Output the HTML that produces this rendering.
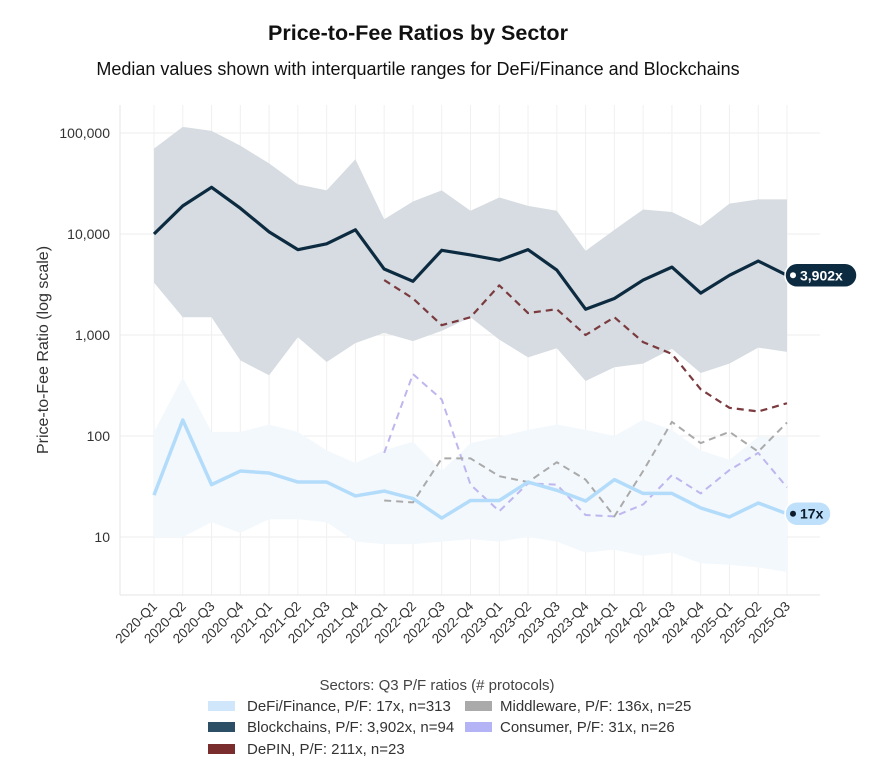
<!DOCTYPE html>
<html><head><meta charset="utf-8"><style>
body{margin:0;background:#fff;font-family:"Liberation Sans",sans-serif;}
svg text{font-family:"Liberation Sans",sans-serif;}
</style></head><body>
<svg id="chart" width="879" height="773" xmlns="http://www.w3.org/2000/svg">
<text x="418" y="40" text-anchor="middle" font-size="21.5" font-weight="bold" fill="#111">Price-to-Fee Ratios by Sector</text>
<text x="418" y="75" text-anchor="middle" font-size="18" fill="#111">Median values shown with interquartile ranges for DeFi/Finance and Blockchains</text>
<text transform="translate(48,350) rotate(-90)" text-anchor="middle" font-size="16" fill="#333">Price-to-Fee Ratio (log scale)</text>
<g id="grid"></g><g id="bands"></g><g id="lines"></g><g id="axes"></g><g id="labels"></g>
<g font-size="15" fill="#333">
<text x="437" y="690" text-anchor="middle" fill="#444">Sectors: Q3 P/F ratios (# protocols)</text>
<g><rect x="208" y="701" width="27" height="10" fill="#cfe6fb"/><text x="247" y="711">DeFi/Finance, P/F: 17x, n=313</text></g>
<g><rect x="208" y="722" width="27" height="10" fill="#2c4f66"/><text x="247" y="732">Blockchains, P/F: 3,902x, n=94</text></g>
<g><rect x="208" y="744" width="27" height="10" fill="#7a2d2d"/><text x="247" y="754">DePIN, P/F: 211x, n=23</text></g>
<g><rect x="465" y="701" width="27" height="10" fill="#aaaaaa"/><text x="500" y="711">Middleware, P/F: 136x, n=25</text></g>
<g><rect x="465" y="722" width="27" height="10" fill="#b3b3f5"/><text x="500" y="732">Consumer, P/F: 31x, n=26</text></g>
</g>
</svg>
<script>
const categories=["2020-Q1","2020-Q2","2020-Q3","2020-Q4","2021-Q1","2021-Q2","2021-Q3","2021-Q4","2022-Q1","2022-Q2","2022-Q3","2022-Q4","2023-Q1","2023-Q2","2023-Q3","2023-Q4","2024-Q1","2024-Q2","2024-Q3","2024-Q4","2025-Q1","2025-Q2","2025-Q3"];
const chainMedian=[10000,19000,29000,18000,10500,7000,8000,11000,4500,3400,6900,6200,5500,7000,4400,1800,2300,3500,4700,2600,3900,5400,3902];
const chainUpper=[70000,115000,105000,75000,50000,31000,27000,55000,14000,21000,27000,17000,23000,19000,17000,6800,11000,17500,16500,12000,20000,22000,22000];
const chainLower=[3300,1500,1500,560,400,950,540,830,1050,870,1100,1500,900,600,740,350,480,520,730,420,520,750,680];
const defiMedian=[26,144,33,45,43,35,35,25.5,28.5,24,15.4,23,23,35,29,22.7,37,27,27,19.4,15.8,21.7,17];
const defiUpper=[110,380,110,110,130,110,72,54,72,88,45,85,98,115,130,115,100,145,115,72,58,98,98];
const defiLower=[10,10,14,11,15,15,14,9,8.5,8.5,9,9.5,9,10,9,7,7.5,6.5,7,5.5,5.3,5,4.5];
const depin=[null,null,null,null,null,null,null,null,3500,2300,1250,1500,3100,1650,1800,1000,1500,850,650,290,190,175,211];
const middleware=[null,null,null,null,null,null,null,null,23,22,60,60,40,35,55,37,16,45,138,85,110,70,136];
const consumer=[null,null,null,null,null,null,null,null,68,410,230,33,18,34,33,16.5,16,21,41,27,46,68,31];
const yTicks=[10,100,1000,10000,100000];
const yTickLabels=["10","100","1,000","10,000","100,000"];

const NS="http://www.w3.org/2000/svg";
const X0=154,X1=787,PL=120,PR=820,PT=105,PB=595;
const xs=i=>X0+(X1-X0)*i/(categories.length-1);
const ys=v=>537-101*(Math.log10(v)-1);
function mk(tag,attrs,parent){const e=document.createElementNS(NS,tag);for(const k in attrs)e.setAttribute(k,attrs[k]);document.getElementById(parent).appendChild(e);return e;}
yTicks.forEach((t,i)=>{
 const g=mk('line',{x1:PL,x2:PR,y1:ys(t),y2:ys(t),stroke:'#eeeeee','stroke-width':1},'grid');
 
 
 const tx=mk('text',{x:110,y:ys(t)+5,'text-anchor':'end','font-size':14,fill:'#333'},'axes');
 tx.textContent=yTickLabels[i];
 
 
});
categories.forEach((c,i)=>{
 const g=mk('line',{x1:xs(i),x2:xs(i),y1:PT,y2:PB,stroke:'#f0f0f0','stroke-width':1},'grid');
 
 
 const tx=mk('text',{transform:`translate(${xs(i)+4},${PB+12}) rotate(-45)`,'text-anchor':'end','font-size':13.5,fill:'#333'},'axes');
 tx.textContent=c;
 
 
});
const fr=mk('line',{x1:PL,x2:PL,y1:PT,y2:PB,stroke:'#e6e6e6'},'grid');


const fb=mk('line',{x1:PL,x2:PR,y1:PB,y2:PB,stroke:'#e6e6e6'},'grid');


function band(up,lo,fill,name){
 let d=up.map((v,i)=>(i?'L':'M')+xs(i)+','+ys(v)).join('');
 for(let i=lo.length-1;i>=0;i--)d+='L'+xs(i)+','+ys(lo[i]);
 const p=mk('path',{d:d+'Z',fill:fill},'bands');
 
 
}
function line(vals,stroke,w,dash,name){
 let d='';let started=false;
 vals.forEach((v,i)=>{if(v==null)return;d+=(started?'L':'M')+xs(i)+','+ys(v);started=true;});
 const p=mk('path',{d:d,fill:'none',stroke:stroke,'stroke-width':w,'stroke-dasharray':dash||'none','stroke-linejoin':'round'},'lines');
 
 
}
band(chainUpper,chainLower,'#d6dce1','blockchains-iqr-band');
band(defiUpper,defiLower,'#f3f8fd','defi-iqr-band');
line(consumer,'#beb6ee',2,'7,5','consumer-line');
line(middleware,'#aaaaaa',2,'7,5','middleware-line');
line(depin,'#7a3a3e',2.2,'7,5','depin-line');
line(defiMedian,'#b3dcfb',3.5,null,'defi-median-line');
line(chainMedian,'#0d2b40',3.2,null,'blockchains-median-line');
function pill(v,text,bg,fg,w,name){
 const x=xs(categories.length-1),y=ys(v);
 const r=mk('rect',{x:x-2,y:y-12,width:w,height:24,rx:12,fill:bg,stroke:'#ffffff','stroke-width':1.5},'labels');
 
 
 const c=mk('circle',{cx:x+6,cy:y,r:3,fill:fg},'labels');
 
 
 const t=mk('text',{x:x+13,y:y+5,'font-size':14,'font-weight':'bold',fill:fg},'labels');
 t.textContent=text;
 
 
}
pill(chainMedian[chainMedian.length-1],'3,902x','#0d2b40','#ffffff',72,'blockchains-end-label');
pill(defiMedian[defiMedian.length-1],'17x','#bfe0fb','#0d1b2a',46,'defi-end-label');
</script>
</body></html>
